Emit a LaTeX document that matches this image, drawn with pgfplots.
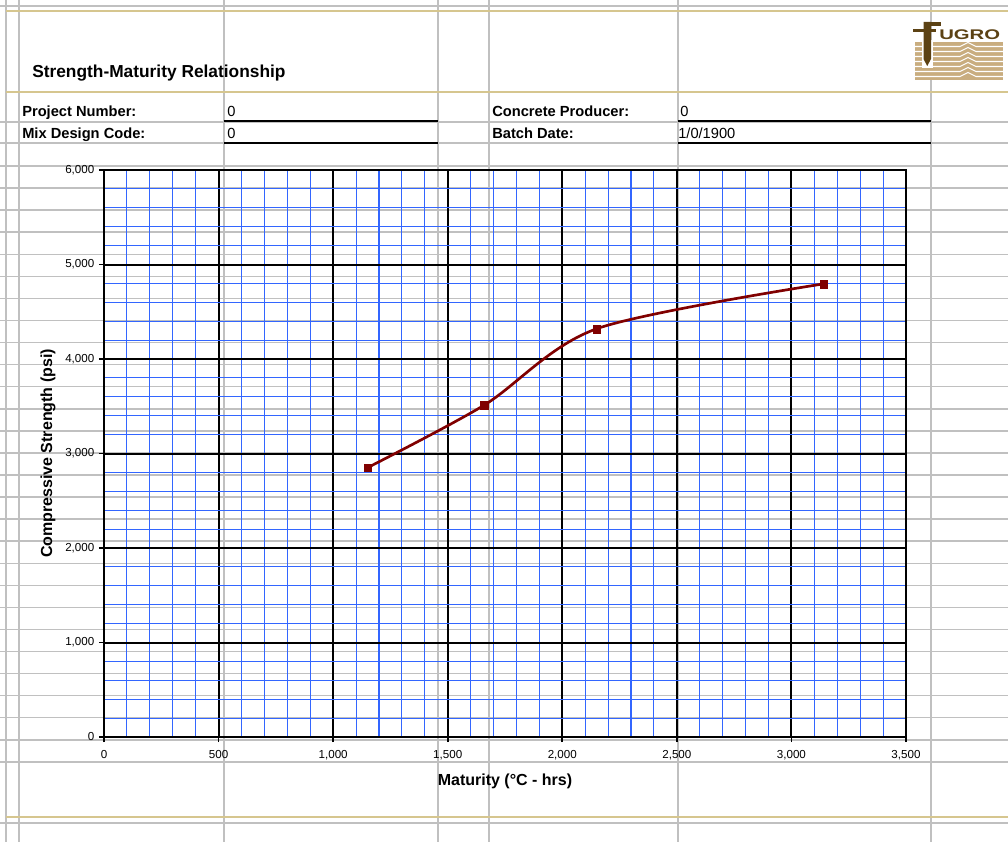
\documentclass[border=0pt]{standalone}
\usepackage{pgfplots}
\pgfplotsset{compat=1.18}
\usepackage{fontspec}
\setmainfont{Liberation Sans}
\usepackage{graphicx}

\definecolor{sheetgrid}{HTML}{C0C0C0}
\definecolor{gold}{HTML}{D6C68F}
\definecolor{minorblue}{HTML}{3366FF}
\definecolor{series}{HTML}{800000}
\definecolor{logotan}{HTML}{C9AD7F}
\definecolor{logobrown}{HTML}{5C4214}

\begin{document}
\begin{tikzpicture}
\useasboundingbox (0,0) rectangle (756pt,-631.5pt);

% worksheet background: cell gridlines, rules, header fields and logo
\begin{scope}[x=0.75pt,y=-0.75pt]
  \tikzset{cell/.style={sheetgrid, line width=1.1pt}}
  \foreach \yy in {6,122,143,823} \draw[cell] (0,\yy) -- (1008,\yy);
  \foreach \k in {0,...,27} \draw[cell] (0,{166+22.07*\k}) -- (1008,{166+22.07*\k});
  \foreach \xx in {6,19,224,438,489,678,931} \draw[cell] (\xx,0) -- (\xx,842);
  \foreach \yy in {11,92,817} \draw[gold, line width=1.7pt] (6,\yy) -- (1008,\yy);

  % underlined input cells
  \foreach \yy in {121,143} {
    \draw[black, line width=1.2pt] (224,\yy) -- (438,\yy);
    \draw[black, line width=1.2pt] (678,\yy) -- (931,\yy);
  }

  % title and header fields
  \node[anchor=base west, inner sep=0, font=\fontsize{13}{15}\selectfont\bfseries] at (32,78) {Strength-Maturity Relationship};
  \tikzset{hdr/.style={anchor=base west, inner sep=0, font=\fontsize{11}{13}\selectfont\bfseries},
           val/.style={anchor=base west, inner sep=0, font=\fontsize{11}{13}\selectfont}}
  \node[hdr] at (22,117) {Project Number:};
  \node[hdr] at (22,139) {Mix Design Code:};
  \node[val] at (227,117) {0};
  \node[val] at (227,139) {0};
  \node[hdr] at (492,117) {Concrete Producer:};
  \node[hdr] at (492,139) {Batch Date:};
  \node[val] at (680,117) {0};
  \node[val] at (678,139) {1/0/1900};

  % logo
  \fill[logotan] (915,42) rectangle (1003,80);
  \foreach \yy in {46.5,51.5,56.5,61.5,66.5,71.5,76.5}
    \draw[white, line width=0.8pt] (915,\yy) -- (960,\yy) -- (968,{\yy-4}) -- (976,\yy) -- (1003,\yy);
  \fill[white] (921.5,40) rectangle (933,68);
  \fill[logobrown] (923.5,22) -- (931,22) -- (931,59) -- (927.25,66) -- (923.5,59) -- cycle;
  \fill[logobrown] (923.5,22) rectangle (941,26);
  \fill[logobrown] (913,29) rectangle (936,32);
  \node[anchor=base west, inner sep=0, text=logobrown, font=\fontsize{10.5}{12}\selectfont\bfseries] at (939,39.5) {\scalebox{1.45}[1]{UGRO}};
\end{scope}

\begin{axis}[
  at={(78pt,-552.75pt)}, anchor=south west,
  scale only axis, width=601.5pt, height=425.25pt,
  xmin=0, xmax=3500, ymin=0, ymax=6000,
  xtick={0,500,...,3500}, ytick={0,1000,...,6000},
  minor x tick num=4, minor y tick num=4,
  grid=both,
  major grid style={black, line width=1.5pt},
  minor grid style={minorblue, line width=0.8pt},
  axis line style={black, line width=1.5pt},
  tick style={black, line width=1.2pt},
  tick align=outside, major tick length=3.75pt, minor tick length=0pt,
  xtick pos=left, ytick pos=left,
  /pgf/number format/1000 sep={,},
  /pgf/number format/assume math mode=true,
  tick label style={font=\fontsize{8.7}{10}\selectfont},
  xticklabel style={yshift=-3pt},
  every axis x label/.style={at={(axis description cs:0.5,0)}, anchor=center, yshift=-33pt},
  every axis y label/.style={at={(axis description cs:0,0.5)}, xshift=-42pt, rotate=90, anchor=center},
  label style={font=\fontsize{12}{14}\selectfont\bfseries},
  xlabel={Maturity (°C - hrs)},
  ylabel={Compressive Strength (psi)},
]
\addplot[series, line width=2pt, smooth,
  mark=square*, mark size=2.9pt, mark options={solid, fill=series, line width=0.2pt}]
  coordinates {(1150,2850) (1658,3510) (2150,4320) (3140,4795)};
\end{axis}
\end{tikzpicture}
\end{document}
